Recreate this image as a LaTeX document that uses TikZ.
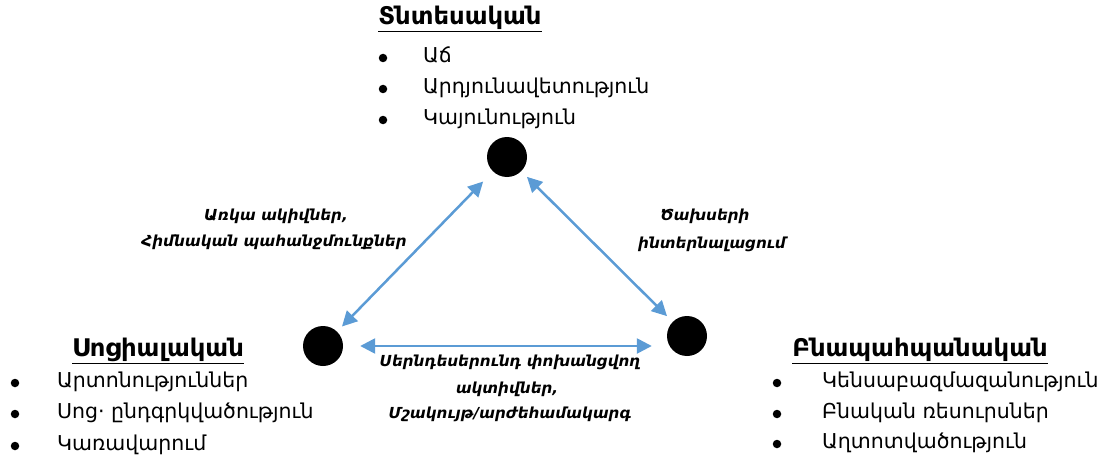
\documentclass[tikz,border=0pt]{standalone}
\usepackage{fontspec}
\setmainfont{DejaVu Sans}
\usetikzlibrary{arrows.meta}
\definecolor{arrblue}{HTML}{5B9BD5}
\begin{document}
\begin{tikzpicture}[x=1pt,y=-1pt,
  dot/.style={circle,fill=black,minimum size=40pt,inner sep=0pt},
  arr/.style={arrblue,line width=2.5pt,{Triangle[length=15pt,width=15pt]}-{Triangle[length=15pt,width=15pt]}},
  head/.style={font=\fontsize{24.3}{28}\selectfont\bfseries,inner sep=0pt},
  item/.style={font=\fontsize{20.5}{24}\selectfont,inner sep=0pt,anchor=west,text height=15pt,text depth=4pt},
  bul/.style={circle,fill=black,minimum size=8.5pt,inner sep=0pt},
  lab/.style={font=\fontsize{15.2}{19}\selectfont\bfseries\itshape,inner sep=0pt,text height=11pt,text depth=4pt}]
\useasboundingbox (0,0) rectangle (1109,460);
% circles
\node[dot] (eco) at (507,157) {};
\node[dot] (soc) at (323,346) {};
\node[dot] (env) at (687,336) {};
% arrows
\draw[arr,shorten <=7pt,shorten >=14pt] (soc) -- (eco);
\draw[arr,shorten <=8pt,shorten >=8pt] (eco) -- (env);
\draw[arr] ([xshift=17pt]soc.east) -- ([xshift=-15pt]soc.east -| env.west);
% economic
\node[head] (ecoh) at (460,19) {\underline{Տնտեսական}};
\node[bul] (ecob1) at (383,58) {};
\node[bul] (ecob2) at (383,89) {};
\node[bul] (ecob3) at (383,120) {};
\node[item] (ecoi1) at (423,57) {Աճ};
\node[item] (ecoi2) at (423,88) {Արդյունավետություն};
\node[item] (ecoi3) at (423,119) {Կայունություն};
% social
\node[head] (soch) at (158,351) {\underline{Սոցիալական}};
\node[bul] (socb1) at (15,383) {};
\node[bul] (socb2) at (15,414) {};
\node[bul] (socb3) at (15,446) {};
\node[item] (soci1) at (57,382) {Արտոնություններ};
\node[item] (soci2) at (57,413) {Սոց· ընդգրկվածություն};
\node[item] (soci3) at (57,445) {Կառավարում};
% environmental
\node[head] (envh) at (920,351) {\underline{Բնապահպանական}};
\node[bul] (envb1) at (777,383) {};
\node[bul] (envb2) at (777,414) {};
\node[bul] (envb3) at (777,444) {};
\node[item] (envi1) at (822,382) {Կենսաբազմազանություն};
\node[item] (envi2) at (822,413) {Բնական ռեսուրսներ};
\node[item] (envi3) at (822,443) {Աղտոտվածություն};
% labels
\node[lab] (l1a) at (276,217) {Առկա ակիվներ,};
\node[lab] (l1b) at (274,243) {Հիմնական պահանջմունքներ};
\node[lab] (l2a) at (705,217) {Ծախսերի};
\node[lab] (l2b) at (712,245) {ինտերնալացում};
\node[lab] (l3a) at (510,363) {Սերնդեսերունդ փոխանցվող};
\node[lab] (l3b) at (507,390) {ակտիվներ,};
\node[lab] (l3c) at (510,415) {Մշակույթ/արժեհամակարգ};
\end{tikzpicture}
\end{document}
